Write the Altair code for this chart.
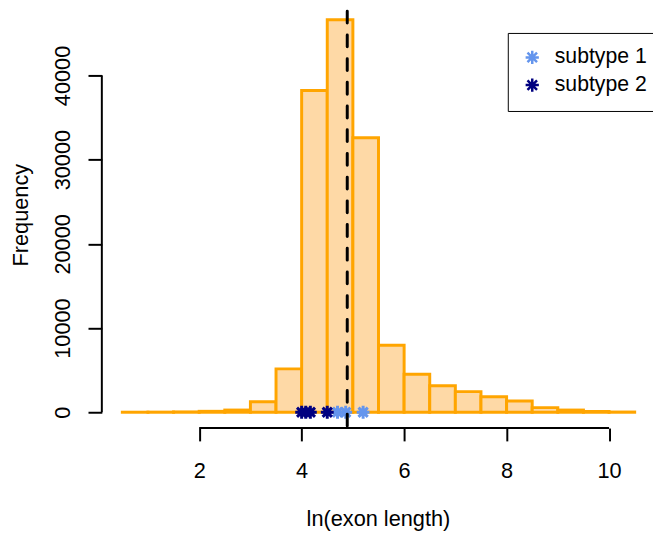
import altair as alt
import pandas as pd

# ---- data ----
bin_start = [0.5, 1.0, 1.5, 2.0, 2.5, 3.0, 3.5, 4.0, 4.5, 5.0,
             5.5, 6.0, 6.5, 7.0, 7.5, 8.0, 8.5, 9.0, 9.5, 10.0]
bin_end = [1.0, 1.5, 2.0, 2.5, 3.0, 3.5, 4.0, 4.5, 5.0, 5.5,
           6.0, 6.5, 7.0, 7.5, 8.0, 8.5, 9.0, 9.5, 10.0, 10.5]
counts = [5, 15, 40, 110, 260, 1250, 5150, 38200, 46600, 32600,
          7950, 4500, 3150, 2450, 1850, 1330, 550, 260, 90, 25]

subtype1_x = [4.70, 4.86, 5.20]
subtype2_x = [4.00, 4.08, 4.17, 4.50]
median_x = [4.89]

x_ticks = [2, 4, 6, 8, 10]
y_ticks = [0, 10000, 20000, 30000, 40000]

X_DOM = [0.1, 10.8]
Y_DOM = [-1877, 47625]

hist = pd.DataFrame({"start": bin_start, "end": bin_end, "count": counts})
pts = pd.DataFrame({
    "x": subtype1_x + subtype2_x,
    "y": [0] * (len(subtype1_x) + len(subtype2_x)),
    "group": ["subtype 1"] * len(subtype1_x) + ["subtype 2"] * len(subtype2_x),
})
med = pd.DataFrame({"x": median_x})

STAR = "M-1,0L1,0M0,-1L0,1M-0.72,-0.72L0.72,0.72M-0.72,0.72L0.72,-0.72"
FONT = "Liberation Sans"
FS = 22

xscale = alt.Scale(domain=X_DOM, nice=False, zero=False)
yscale = alt.Scale(domain=Y_DOM, nice=False, zero=False)

xaxis = alt.Axis(values=x_ticks, format="d", title="ln(exon length)",
                 tickSize=13, labelPadding=37, labelBaseline="alphabetic",
                 labelFont=FONT, labelFontSize=FS,
                 titleFont=FONT, titleFontSize=FS,
                 titleX=279.5, titleY=99, titleBaseline="alphabetic",
                 titleAlign="center")
yaxis = alt.Axis(values=y_ticks, format="d", title="Frequency",
                 tickSize=14, labelAngle=270, labelAlign="center",
                 labelBaseline="alphabetic", labelPadding=19,
                 labelFont=FONT, labelFontSize=FS,
                 titleFont=FONT, titleFontSize=FS,
                 titleAngle=270, titleX=-75, titleY=206,
                 titleBaseline="alphabetic", titleAlign="center")

bars = alt.Chart(hist).mark_rect(
    fill="#FED9A6", stroke="#FFA500", strokeWidth=3
).encode(
    x=alt.X("start:Q", scale=xscale, axis=xaxis),
    x2="end:Q",
    y=alt.Y("count:Q", scale=yscale, axis=yaxis),
    y2=alt.datum(0),
)

points = alt.Chart(pts).mark_point(
    shape=STAR, filled=False, strokeWidth=3, size=170, opacity=1
).encode(
    x="x:Q",
    y="y:Q",
    color=alt.Color(
        "group:N",
        scale=alt.Scale(domain=["subtype 1", "subtype 2"],
                        range=["#6495ED", "#000080"]),
        legend=alt.Legend(
            title=None, orient="none", legendX=411, legendY=22,
            strokeColor="black", fillColor="white", padding=14,
            symbolType=STAR, symbolSize=180, symbolStrokeWidth=2.5,
            labelFont=FONT, labelFontSize=21.5, labelColor="black",
            labelOffset=12, rowPadding=4,
        ),
    ),
)

# axis lines (R style: only between first and last tick)
xline = alt.Chart(pd.DataFrame({"a": [x_ticks[0]], "b": [x_ticks[-1]]})).mark_rule(
    color="black", strokeWidth=2
).encode(x="a:Q", x2="b:Q", y=alt.datum(Y_DOM[0]))
yline = alt.Chart(pd.DataFrame({"a": [y_ticks[0]], "b": [y_ticks[-1]]})).mark_rule(
    color="black", strokeWidth=2
).encode(y="a:Q", y2="b:Q", x=alt.datum(X_DOM[0]))

vline = alt.Chart(med).mark_rule(
    color="black", strokeWidth=3, strokeDash=[12, 12], strokeCap="round"
).encode(x="x:Q")

chart = alt.layer(bars, points, vline, xline, yline).properties(
    width=555, height=422,
    autosize=alt.AutoSizeParams(type="none"),
    padding={"left": 95, "top": 0, "right": 3, "bottom": 104},
).configure_view(stroke=None).configure_axis(
    grid=False, domain=False, labelFont=FONT, titleFont=FONT,
    labelFontSize=FS, titleFontSize=FS, titleFontWeight="normal",
    labelColor="black", titleColor="black", tickColor="black", tickWidth=2,
)

chart.save("out.html", embed_options={"renderer": "svg", "actions": False})
